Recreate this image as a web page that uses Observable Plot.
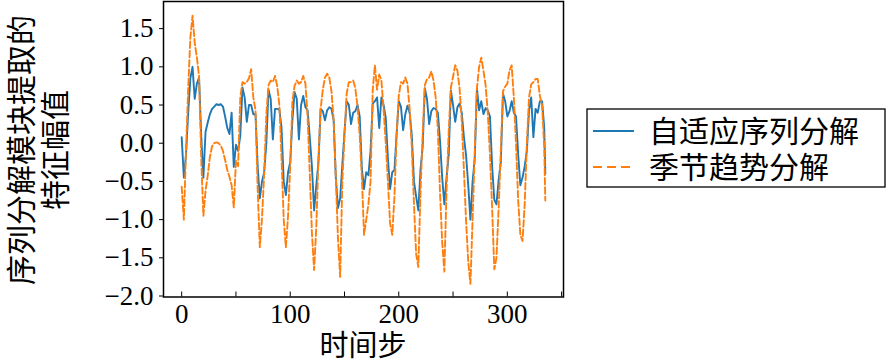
<!DOCTYPE html>
<html>
<head>
<meta charset="utf-8">
<script src="https://cdn.jsdelivr.net/npm/d3@7"></script>
<script src="https://cdn.jsdelivr.net/npm/@observablehq/plot@0.6"></script>
<style>
  html, body { margin: 0; padding: 0; background: #fff; }
</style>
</head>
<body>
<div id="chart"></div>
<script>
// time steps (every 2nd step, plus the last one)
const steps = d3.range(0, 336, 2).concat([335]);

// 自适应序列分解 (blue, solid)
const adaptive = [
  0.08, -0.45, -0.15, 0.4, 0.85, 1.0, 0.58, 0.78, 0.86, 0.1,
  -0.45, 0.15, 0.27, 0.38, 0.45, 0.48, 0.51, 0.5, 0.51, 0.48,
  0.35, 0.2, 0.12, 0.4, -0.31, -0.02, -0.1, 0.1, 0.73, 0.6,
  0.28, 0.5, 0.5, 0.38, 0.38, -0.3, -0.72, -0.5, -0.38, 0.0,
  0.7, 0.58, 0.05, 0.45, 0.45, 0.44, 0.2, -0.5, -0.68, -0.38,
  -0.25, 0.3, 0.67, 0.58, 0.05, 0.5, 0.62, 0.47, 0.43, 0.08,
  -0.31, -0.88, -0.55, -0.25, 0.45, 0.42, 0.3, 0.43, 0.47, 0.45,
  0.3, -0.45, -0.85, -0.72, -0.28, 0.15, 0.55, 0.5, 0.25, 0.4,
  0.42, 0.5, 0.35, -0.33, -0.6, -0.38, -0.42, -0.1, 0.52, 0.55,
  0.6, 0.2, 0.6, 0.5, 0.33, -0.2, -0.6, -0.38, -0.35, 0.12,
  0.55, 0.48, 0.17, 0.38, 0.49, 0.4, 0.1, -0.5, -0.7, -0.88,
  -0.35, -0.05, 0.72, 0.58, 0.25, 0.42, 0.46, 0.45, 0.4, 0.03,
  -0.45, -0.8, -0.45, -0.15, 0.69, 0.5, 0.28, 0.47, 0.52, 0.4,
  0.08, -0.16, -0.55, -1.0, -0.5, -0.2, 0.72, 0.43, 0.55, 0.38,
  0.46, 0.43, 0.35, -0.3, -0.74, -0.8, -0.48, -0.25, 0.65, 0.55,
  0.35, 0.42, 0.55, 0.4, 0.35, -0.15, -0.55, -0.45, -0.3, -0.1,
  0.43, 0.6, 0.08, 0.45, 0.4, 0.55, 0.55, 0.2, -0.4
];

// 季节趋势分解 (orange, dashed)
const seasonal = [
  -0.57, -1.0, -0.1, 0.72, 1.38, 1.67, 1.32, 1.12, 0.88, -0.2,
  -0.95, -0.62, -0.42, -0.18, -0.04, 0.0, 0.01, 0.0, -0.03, -0.1,
  -0.22, -0.35, -0.44, -0.55, -0.84, -0.23, -0.3, 0.6, 0.8, 0.78,
  0.8, 0.85, 0.97, 0.6, 0.43, -0.6, -1.36, -0.98, -0.4, 0.38,
  0.76, 0.82, 0.8, 0.88, 0.75, 0.5, -0.2, -1.0, -1.36, -0.95,
  -0.3, 0.55, 0.75, 0.82, 0.78, 0.8, 0.88, 0.78, 0.35, -0.4,
  -1.18, -1.66, -1.1, -0.2, 0.45, 0.7, 0.86, 0.91, 0.86, 0.68,
  0.3, -0.45, -1.25, -1.75, -0.5, 0.1, 0.65, 0.8, 0.8, 0.82,
  0.72, 0.48, 0.1, -0.45, -1.2, -1.0, -0.8, -0.5, 0.7, 1.02,
  0.7, 0.9, 0.82, 0.45, 0.0, -0.5, -1.05, -1.2, -0.7, 0.1,
  0.62, 0.8, 0.78, 0.86, 0.78, 0.45, -0.05, -0.8, -1.45, -1.62,
  -0.65, 0.12, 0.76, 0.84, 0.86, 0.94, 0.82, 0.6, 0.18, -0.65,
  -1.3, -1.68, -0.6, 0.15, 0.73, 0.87, 1.02, 0.95, 0.72, 0.3,
  -0.35, -1.02, -1.55, -1.84, -1.0, -0.1, 0.72, 1.0, 1.12, 0.95,
  0.76, 0.4, -0.15, -0.85, -1.65, -1.5, -0.85, -0.1, 0.68, 0.74,
  0.78, 0.95, 1.02, 0.6, 0.0, -0.75, -1.2, -1.28, -0.8, 0.0,
  0.6, 0.77, 0.8, 0.84, 0.84, 0.62, 0.5, -0.05, -0.75
];

const seriesNames = ["自适应序列分解", "季节趋势分解"];
const seriesColors = ["#1f77b4", "#ff7f0e"];
const yTicks = [-2.0, -1.5, -1.0, -0.5, 0.0, 0.5, 1.0, 1.5];
const xTicksAll = [0, 50, 100, 150, 200, 250, 300, 350];
const xTickLabels = [0, 100, 200, 300];
const xLabel = "时间步";
const yLabelLines = ["序列分解模块提取的", "特征幅值"];

const data = steps.map((t, i) => ({t, a: adaptive[i], s: seasonal[i]}));

const numFont = "'Liberation Serif', 'DejaVu Serif', serif";
const cjkFont = "'Noto Sans CJK SC', sans-serif";

const svg = Plot.plot({
  width: 888,
  height: 363,
  marginLeft: 163,
  marginRight: 325,
  marginTop: 1,
  marginBottom: 66.5,
  x: {domain: [-16.75, 351.75]},
  y: {domain: [-2.013, 1.855]},
  style: {fontFamily: numFont, fontSize: "27px", color: "black", background: "white", overflow: "visible"},
  marks: [
    Plot.line(data, {x: "t", y: "a", stroke: seriesColors[0], strokeWidth: 1.9}),
    Plot.line(data, {x: "t", y: "s", stroke: seriesColors[1], strokeWidth: 1.9, strokeDasharray: "6.5,2.8"}),
    Plot.frame({stroke: "black", strokeWidth: 1.5}),
    Plot.axisY({ticks: yTicks, tickSize: 4, tickPadding: 6, label: null, fontSize: 27,
      tickFormat: d => (d < 0 ? "\u2212" : "") + Math.abs(d).toFixed(1)}),
    Plot.axisX({ticks: xTicksAll, tickSize: -5, label: null, tickFormat: () => ""}),
    Plot.axisX({ticks: xTickLabels, tickSize: 0, tickPadding: 7, label: null, fontSize: 27,
      tickFormat: d => String(d)})
  ]
});

document.getElementById("chart").appendChild(svg);

const s = d3.select(svg);

// y-axis label (two lines, rotated)
const yl = [[32, yLabelLines[0]], [66, yLabelLines[1]]];
yl.forEach(([x, txt]) => {
  s.append("text")
    .attr("transform", `translate(${x},150) rotate(-90)`)
    .attr("text-anchor", "middle")
    .style("font-family", cjkFont)
    .style("font-size", "30px")
    .attr("fill", "black")
    .text(txt);
});

// x-axis label
s.append("text")
  .attr("x", 363).attr("y", 356)
  .attr("text-anchor", "middle")
  .style("font-family", cjkFont)
  .style("font-size", "29px")
  .attr("fill", "black")
  .text(xLabel);

// legend
const lg = s.append("g");
lg.append("rect")
  .attr("x", 587).attr("y", 109).attr("width", 298).attr("height", 78)
  .attr("fill", "white").attr("stroke", "black").attr("stroke-width", 1.3);
const rowsY = [131, 167];
seriesNames.forEach((name, i) => {
  lg.append("line")
    .attr("x1", 593).attr("x2", 634).attr("y1", rowsY[i]).attr("y2", rowsY[i])
    .attr("stroke", seriesColors[i]).attr("stroke-width", 1.9)
    .attr("stroke-dasharray", i === 1 ? "9,5" : null);
  lg.append("text")
    .attr("x", 649).attr("y", rowsY[i] + 11)
    .attr("text-anchor", "start")
    .style("font-family", cjkFont)
    .style("font-size", "30px")
    .attr("fill", "black")
    .text(name);
});
</script>
</body>
</html>
